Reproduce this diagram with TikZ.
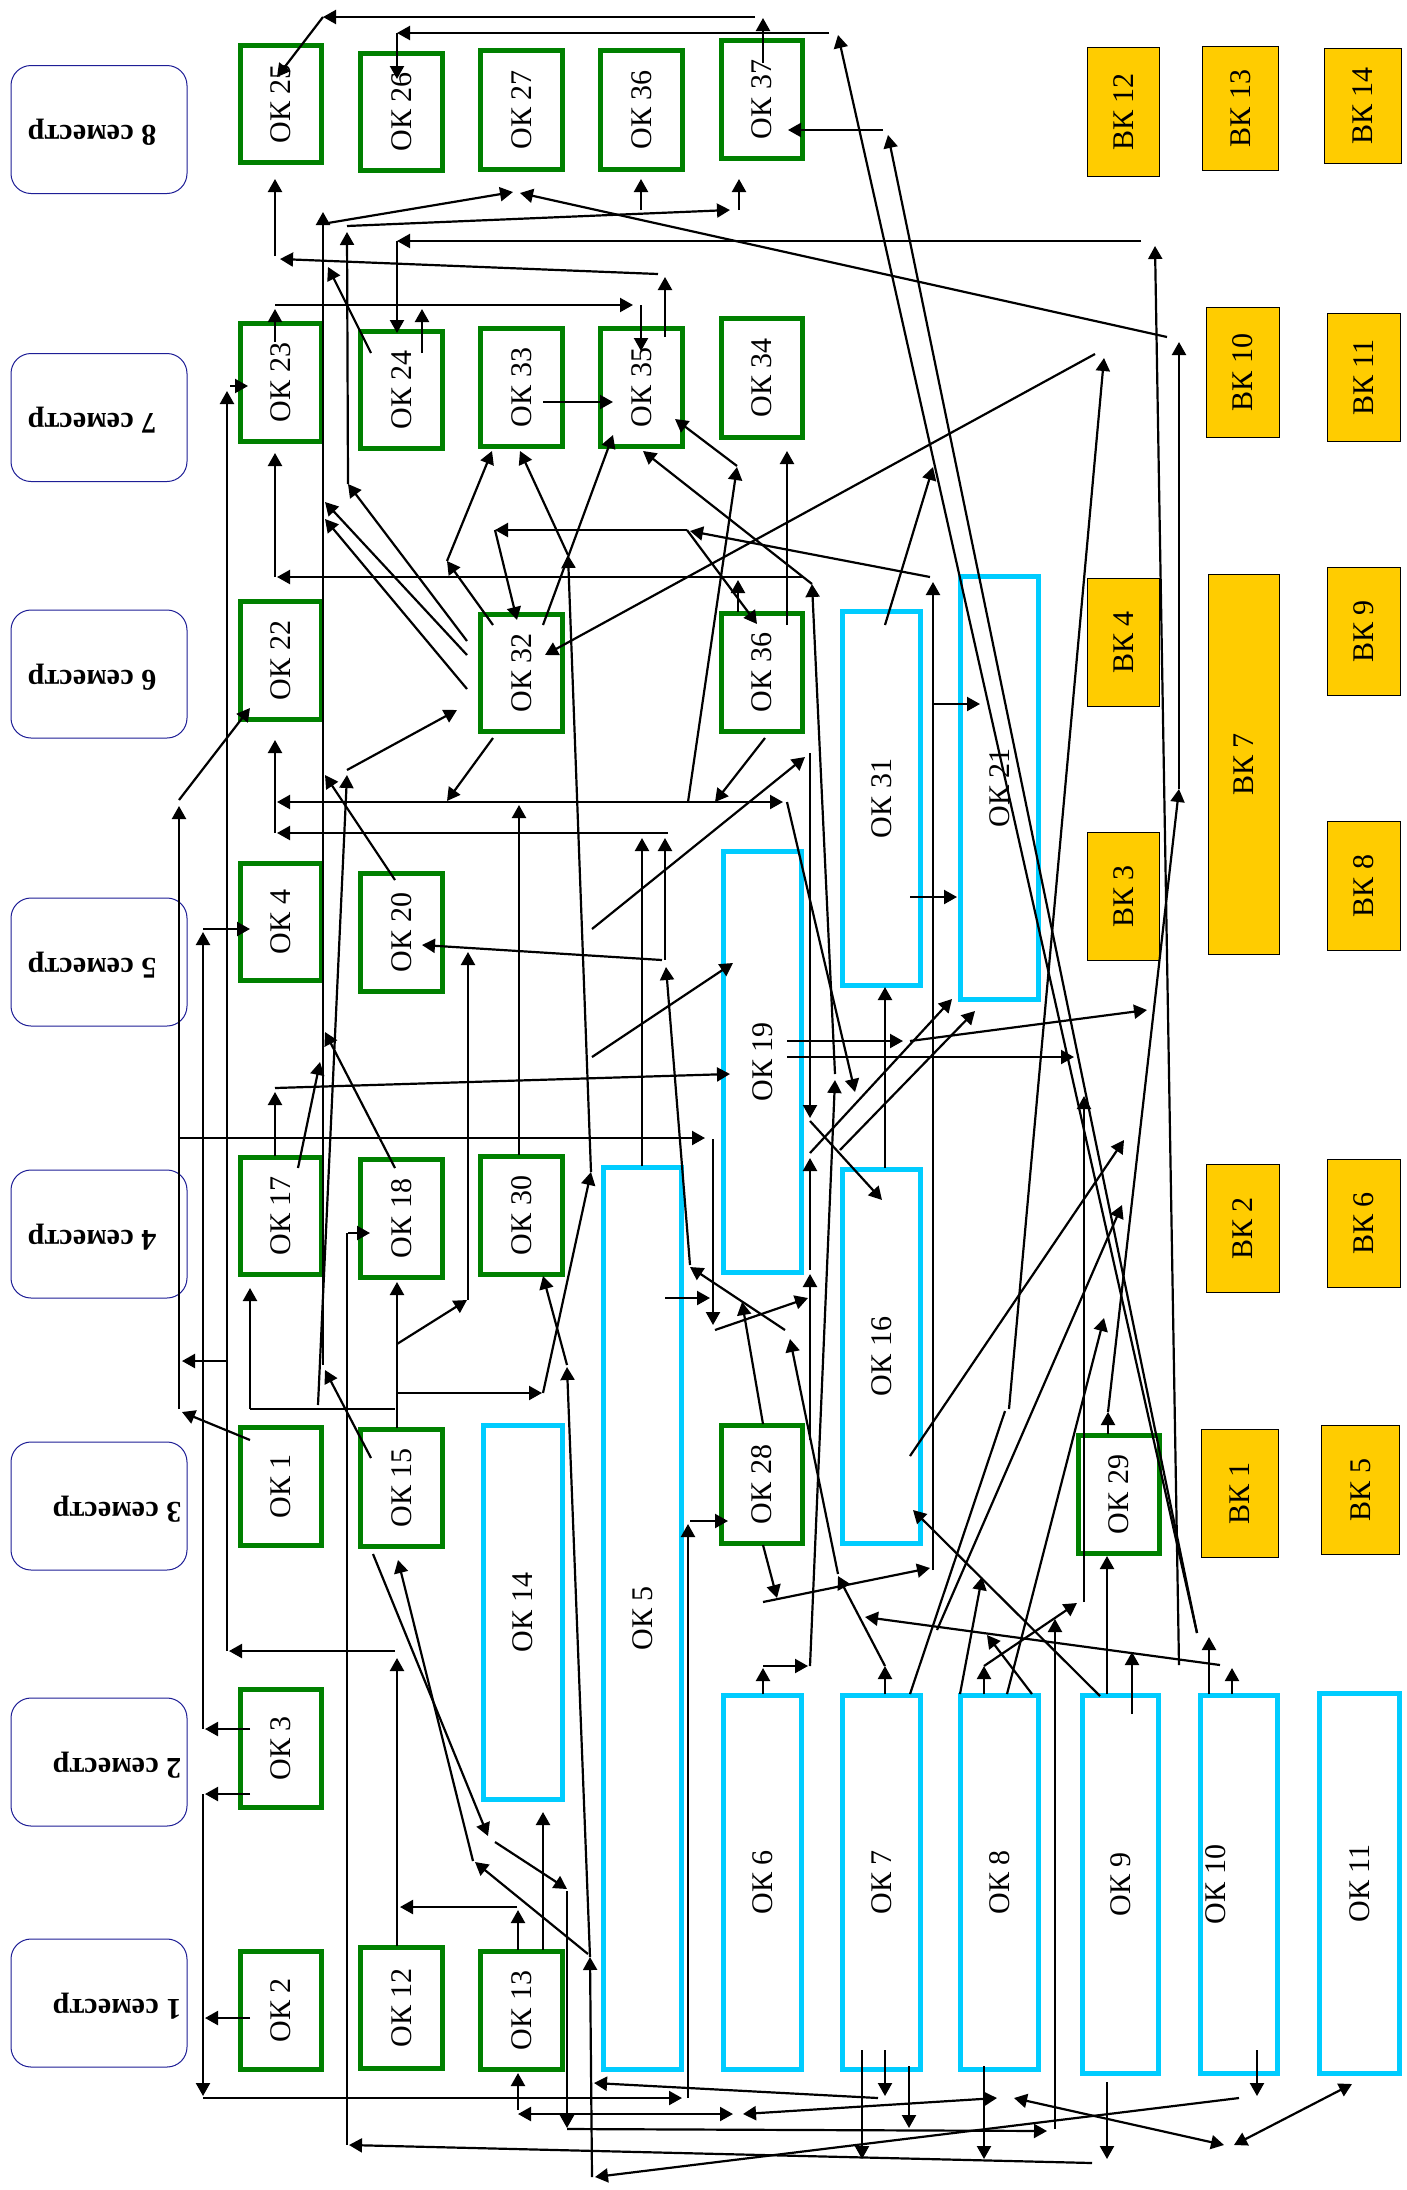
\documentclass[tikz,border=0pt]{standalone}
\usepackage{fontspec}
\setmainfont{Liberation Serif}
\usepackage{graphicx}
\usetikzlibrary{arrows.meta}
\definecolor{okgreen}{RGB}{0,128,0}
\definecolor{okcyan}{RGB}{0,204,255}
\definecolor{vkyellow}{RGB}{255,204,0}
\definecolor{semblue}{RGB}{30,30,150}
\newcommand\okfont{\fontsize{15}{16}\selectfont}
\newcommand\semfont{\fontsize{15}{16}\selectfont\bfseries}
\newcommand\bx[7]{\node[#2,minimum width={(#5-#3-3)*0.5pt},minimum height={(#6-#4-3)*0.5pt}] (#1) at ({(#3+#5)/2},{(#4+#6)/2}) {\rotatebox{90}{#7}};}
\newcommand\sm[4]{\node[sem] (#1) at (99,{#2}) {};\node (#1t) at ({#3},{#2+3}) {\rotatebox{180}{\semfont #4}};}
\tikzset{
  okg/.style={draw=okgreen,line width=2.4pt,inner sep=0pt,font=\okfont},
  okc/.style={draw=okcyan,line width=2.1pt,inner sep=0pt,font=\okfont},
  vk/.style={draw=black,line width=0.6pt,fill=vkyellow,inner sep=0pt,font=\okfont},
  sem/.style={draw=semblue,line width=0.5pt,rounded corners=10pt,minimum width=88pt,minimum height=64pt,inner sep=0pt},
  ar/.style={-{Triangle[length=6.5pt,width=7pt]},line width=1.1pt},
  ar2/.style={{Triangle[length=6.5pt,width=7pt]}-{Triangle[length=6.5pt,width=7pt]},line width=1.1pt},
  ln/.style={line width=1.1pt}
}
\begin{document}
\begin{tikzpicture}[x=0.5pt,y=-0.5pt]
\useasboundingbox (0,0) rectangle (1407,2190);
\fill[white] (0,0) rectangle (1407,2190);
% semesters
\sm{s8}{129.5}{92}{8 семестр}
\sm{s7}{417.5}{92}{7 семестр}
\sm{s6}{674}{92}{6 семестр}
\sm{s5}{962}{92}{5 семестр}
\sm{s4}{1234}{92}{4 семестр}
\sm{s3}{1506}{117}{3 семестр}
\sm{s2}{1762}{117}{2 семестр}
\sm{s1}{2003}{117}{1 семестр}
% column 1
\bx{ok25}{okg}{239}{44}{323}{164}{ОК 25}
\bx{ok23}{okg}{239}{322}{323}{443}{ОК 23}
\bx{ok22}{okg}{239}{600}{323}{721}{ОК 22}
\bx{ok4}{okg}{239}{862}{323}{982}{ОК 4}
\bx{ok17}{okg}{239}{1156}{323}{1276}{ОК 17}
\bx{ok1}{okg}{239}{1426}{323}{1547}{ОК 1}
\bx{ok3}{okg}{239}{1688}{323}{1809}{ОК 3}
\bx{ok2}{okg}{239}{1950}{323}{2071}{ОК 2}
% column 2
\bx{ok26}{okg}{359}{52}{444}{172}{ОК 26}
\bx{ok24}{okg}{359}{330}{444}{450}{ОК 24}
\bx{ok20}{okg}{359}{872}{444}{993}{ОК 20}
\bx{ok18}{okg}{359}{1158}{444}{1279}{ОК 18}
\bx{ok15}{okg}{359}{1428}{444}{1548}{ОК 15}
\bx{ok12}{okg}{359}{1946}{444}{2070}{ОК 12}
% column 3
\bx{ok27}{okg}{479}{49}{564}{171}{ОК 27}
\bx{ok33}{okg}{479}{327}{564}{448}{ОК 33}
\bx{ok32}{okg}{479}{613}{564}{733}{ОК 32}
\bx{ok30}{okg}{479}{1155}{564}{1276}{ОК 30}
\bx{ok14}{okc}{482}{1424}{564}{1801}{ОК 14}
\bx{ok13}{okg}{479}{1950}{564}{2071}{ОК 13}
% column 4
\bx{ok36a}{okg}{599}{49}{684}{171}{ОК 36}
\bx{ok35}{okg}{599}{327}{684}{448}{ОК 35}
\bx{ok5}{okc}{602}{1166}{683}{2071}{ОК 5}
% column 5
\bx{ok37}{okg}{720}{39}{804}{160}{ОК 37}
\bx{ok34}{okg}{720}{317}{804}{439}{ОК 34}
\bx{ok36b}{okg}{720}{612}{804}{733}{ОК 36}
\bx{ok19}{okc}{722}{850}{803}{1274}{ОК 19}
\bx{ok28}{okg}{720}{1424}{804}{1545}{ОК 28}
\bx{ok6}{okc}{722}{1694}{803}{2071}{ОК 6}
% column 6
\bx{ok31}{okc}{841}{610}{922}{987}{ОК 31}
\bx{ok16}{okc}{841}{1168}{922}{1545}{ОК 16}
\bx{ok7}{okc}{841}{1694}{922}{2071}{ОК 7}
% column 7
\bx{ok21}{okc}{959}{575}{1040}{1001}{ОК 21}
\bx{ok8}{okc}{959}{1694}{1040}{2071}{ОК 8}
\bx{bk12}{vk}{1086}{46}{1161}{178}{ВК 12}
\bx{bk4}{vk}{1086}{577}{1161}{708}{ВК 4}
\bx{bk3}{vk}{1086}{831}{1161}{962}{ВК 3}
\bx{ok29}{okg}{1077}{1434}{1161}{1555}{ОК 29}
\bx{ok9}{okc}{1081}{1694}{1160}{2075}{ОК 9}
% column 8
\bx{bk13}{vk}{1201}{45}{1280}{172}{ВК 13}
\bx{bk10}{vk}{1205}{306}{1281}{439}{ВК 10}
\bx{bk7}{vk}{1207}{573}{1281}{956}{ВК 7}
\bx{bk2}{vk}{1205}{1163}{1281}{1294}{ВК 2}
\bx{bk1}{vk}{1200}{1428}{1280}{1559}{ВК 1}
\node[okc,minimum width=38.5pt,minimum height=189pt] (ok10) at (1239,1884.5) {};
\node[font=\okfont] (ok10t) at (1216,1884.5) {\rotatebox{90}{ОК 10}};
% column 9
\bx{bk14}{vk}{1323}{47}{1403}{165}{ВК 14}
\bx{bk11}{vk}{1326}{312}{1402}{443}{ВК 11}
\bx{bk9}{vk}{1326}{566}{1402}{697}{ВК 9}
\bx{bk8}{vk}{1326}{820}{1402}{952}{ВК 8}
\bx{bk6}{vk}{1326}{1158}{1402}{1289}{ВК 6}
\bx{bk5}{vk}{1320}{1424}{1401}{1556}{ВК 5}
\bx{ok11}{okc}{1318}{1692}{1401}{2075}{ОК 11}
% ---------- connectors ----------
\draw[ar] (755,17) -- (323,17);
\draw[ar] (323,17) -- (277,77);
\draw[ar] (829,33) -- (397,33);
\draw[ar] (397,33) -- (397,79);
\draw[ar] (763,63) -- (763,18);
\draw[ar] (1197,1633) -- (838,35);
\draw[ar] (1197,1633) -- (888,135);
\draw[ar] (883,130) -- (788,130);
\draw[ar] (1167,337) -- (520,193);
\draw[ar] (323,1365) -- (323,212);
\draw[ar] (328,223) -- (513,192);
\draw[ar] (348,484) -- (347,232);
\draw[ar] (347,226) -- (730,210);
\draw[ar] (641,210) -- (641,179);
\draw[ar] (739,210) -- (739,179);
\draw[ar] (1141,241) -- (397,241);
\draw[ar] (397,241) -- (397,333);
\draw[ar] (1179,1665) -- (1155,246);
\draw[ar] (1108,1434) -- (1108,1412);
\draw[ar] (1108,1412) -- (1179,789);
\draw[ar] (1179,789) -- (1179,342);
\draw[ar] (1009,1409) -- (1104,358);
\draw[ln] (910,1694) -- (1005,1411);
\draw[ar] (1095,354) -- (545,655);
\draw[ar] (885,625) -- (933,467);
\draw[ar] (422,353) -- (422,309);
\draw[ar] (275,342) -- (275,309);
\draw[ar] (275,305) -- (633,305);
\draw[ar] (641,305) -- (641,351);
\draw[ar] (665,337) -- (665,277);
\draw[ar] (658,274) -- (280,259);
\draw[ar] (275,256) -- (275,179);
\draw[ar] (371,353) -- (328,267);
\draw[ar] (543,402) -- (613,402);
\draw[ar] (493,625) -- (447,561);
\draw[ar] (447,561) -- (492,451);
\draw[ar] (568,555) -- (520,451);
\draw[ar] (543,625) -- (613,435);
\draw[ar] (787,625) -- (787,451);
\draw[ar] (688,802) -- (737,467);
\draw[ar] (737,466) -- (675,419);
\draw[ar] (930,577) -- (690,531);
\draw[ar] (687,530) -- (495,530);
\draw[ar] (495,530) -- (517,620);
\draw[ar] (687,530) -- (757,624);
\draw[ar] (803,577) -- (277,577);
\draw[ar] (275,577) -- (275,453);
\draw[ar] (738,612) -- (738,580);
\draw[ar] (467,689) -- (325,519);
\draw[ar] (467,655) -- (325,502);
\draw[ar] (467,641) -- (348,484);
\draw[ar] (493,738) -- (447,801);
\draw[ar] (812,584) -- (643,451);
\draw[ar] (519,1155) -- (519,805);
\draw[ar] (519,802) -- (277,802);
\draw[ar] (519,802) -- (783,802);
\draw[ar] (668,833) -- (277,833);
\draw[ar] (275,833) -- (275,740);
\draw[ar] (642,1166) -- (642,838);
\draw[ar] (665,960) -- (665,838);
\draw[ar] (662,960) -- (422,945);
\draw[ar] (765,738) -- (715,802);
\draw[ar] (787,802) -- (855,1092);
\draw[ar] (592,929) -- (805,757);
\draw[ar] (810,753) -- (810,1118);
\draw[ar] (810,1121) -- (882,1200);
\draw[ar] (592,1057) -- (733,963);
\draw[ar] (275,1156) -- (275,1092);
\draw[ar] (275,1088) -- (730,1074);
\draw[ar] (298,1168) -- (320,1062);
\draw[ar] (395,880) -- (325,775);
\draw[ar] (395,1168) -- (325,1032);
\draw[ar] (318,1405) -- (347,775);
\draw[ar] (347,770) -- (457,710);
\draw[ar] (179,1409) -- (179,806);
\draw[ar] (179,800) -- (250,708);
\draw[ar] (250,1440) -- (182,1412);
\draw[ar] (203,1729) -- (203,932);
\draw[ar] (203,929) -- (250,929);
\draw[ar] (250,1729) -- (205,1729);
\draw[ar] (250,1794) -- (205,1794);
\draw[ar] (203,1794) -- (203,2096);
\draw[ar] (250,2018) -- (205,2018);
\draw[ar] (203,2098) -- (682,2098);
\draw[ar] (179,1138) -- (705,1138);
\draw[ar] (227,1651) -- (227,391);
\draw[ar] (230,386) -- (248,386);
\draw[ar] (395,1651) -- (229,1651);
\draw[ar] (397,1946) -- (397,1658);
\draw[ar] (227,1361) -- (182,1361);
\draw[ln] (395,1409) -- (250,1409);
\draw[ar] (250,1409) -- (250,1288);
\draw[ar] (371,1458) -- (325,1370);
\draw[ar] (1092,2163) -- (349,2145);
\draw[ln] (347,2145) -- (347,1233);
\draw[ar] (348,1233) -- (370,1233);
\draw[ar] (397,1428) -- (397,1282);
\draw[ar] (397,1344) -- (467,1300);
\draw[ar] (468,1300) -- (468,952);
\draw[ar] (398,1393) -- (542,1393);
\draw[ar] (543,1393) -- (591,1172);
\draw[ar] (591,1172) -- (568,555);
\draw[ar] (373,1554) -- (488,1836);
\draw[ar] (495,1842) -- (567,1889);
\draw[ar] (567,1891) -- (567,2128);
\draw[ar] (567,2129) -- (1047,2131);
\draw[ar] (1055,2129) -- (1055,1619);
\draw[ar] (473,1861) -- (398,1560);
\draw[ar] (588,1954) -- (475,1862);
\draw[ar] (518,1950) -- (518,1910);
\draw[ar] (517,1907) -- (400,1907);
\draw[ar] (543,1950) -- (543,1812);
\draw[ar] (518,2110) -- (518,2073);
\draw[ar2] (518,2114) -- (733,2114);
\draw[ar2] (743,2114) -- (997,2098);
\draw[ar2] (1014,2098) -- (1224,2145);
\draw[ar2] (1234,2145) -- (1352,2084);
\draw[ar] (688,2098) -- (688,1524);
\draw[ar] (690,1521) -- (728,1521);
\draw[ar] (878,2098) -- (594,2083);
\draw[ar] (1239,2098) -- (595,2177);
\draw[ar] (592,2177) -- (590,1957);
\draw[ar] (590,1957) -- (567,1367);
\draw[ar] (567,1365) -- (543,1276);
\draw[ar] (862,2050) -- (862,2159);
\draw[ar] (885,2050) -- (885,2096);
\draw[ar] (909,2066) -- (909,2128);
\draw[ar] (665,1298) -- (710,1298);
\draw[ar] (713,1139) -- (713,1325);
\draw[ar] (715,1330) -- (808,1298);
\draw[ar] (838,1574) -- (790,1339);
\draw[ar] (785,1330) -- (690,1267);
\draw[ar] (690,1265) -- (666,967);
\draw[ar] (763,1424) -- (742,1302);
\draw[ar] (763,1545) -- (777,1598);
\draw[ar] (763,1602) -- (930,1568);
\draw[ar] (933,1570) -- (933,582);
\draw[ar] (910,897) -- (957,897);
\draw[ar] (933,704) -- (980,704);
\draw[ar] (885,1168) -- (885,987);
\draw[ar] (787,1041) -- (903,1041);
\draw[ar] (910,1041) -- (1147,1010);
\draw[ar] (787,1057) -- (1074,1057);
\draw[ar] (810,1153) -- (952,999);
\draw[ar] (840,1150) -- (975,1011);
\draw[ar] (810,1440) -- (810,1274);
\draw[ar] (810,1270) -- (810,1158);
\draw[ar] (835,1074) -- (812,584);
\draw[ar] (763,1694) -- (763,1668);
\draw[ar] (763,1666) -- (808,1666);
\draw[ar] (810,1666) -- (835,1080);
\draw[ar] (885,1694) -- (885,1666);
\draw[ar] (885,1666) -- (838,1576);
\draw[ar] (910,1456) -- (1124,1140);
\draw[ar] (1100,1696) -- (913,1510);
\draw[ar] (937,1630) -- (1122,1205);
\draw[ar] (960,1694) -- (982,1577);
\draw[ar] (984,1694) -- (984,1666);
\draw[ar] (984,1666) -- (1077,1603);
\draw[ar] (1032,1694) -- (987,1635);
\draw[ar] (1007,1694) -- (1104,1318);
\draw[ar] (1084,1602) -- (1084,1096);
\draw[ar] (1107,1694) -- (1107,1556);
\draw[ar] (1132,1714) -- (1132,1652);
\draw[ar] (1209,1694) -- (1209,1637);
\draw[ar] (1232,1694) -- (1232,1668);
\draw[ar] (1220,1665) -- (865,1617);
\draw[ar] (1257,2050) -- (1257,2096);
\draw[ar] (984,2066) -- (984,2159);
\draw[ar] (1107,2082) -- (1107,2159);
\end{tikzpicture}
\end{document}
